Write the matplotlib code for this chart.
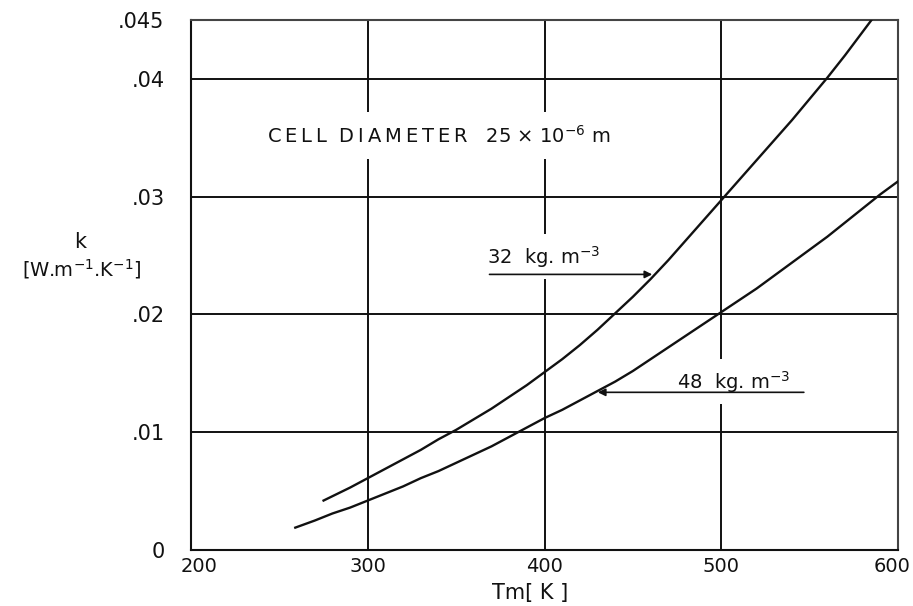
import matplotlib.pyplot as plt
import matplotlib.transforms as mtransforms
import numpy as np

# Thermal conductivity of foam vs mean temperature, cell diameter 25e-6 m
t_32 = [275, 290, 300, 310, 320, 330, 340, 350, 360, 370, 380, 390, 400, 410, 420,
        430, 440, 450, 460, 470, 480, 490, 500, 510, 520, 530, 540, 550, 560, 570,
        580, 585]
k_32 = [0.0042, 0.0053, 0.0061, 0.0069, 0.0077, 0.0085, 0.0094, 0.0102, 0.0111,
        0.0120, 0.0130, 0.0140, 0.0151, 0.0162, 0.0174, 0.0187, 0.0201, 0.0215,
        0.0230, 0.0246, 0.0263, 0.0280, 0.0297, 0.0314, 0.0331, 0.0348, 0.0365,
        0.0383, 0.0401, 0.0420, 0.0440, 0.0450]

t_48 = [259, 270, 280, 290, 300, 310, 320, 330, 340, 350, 360, 370, 380, 390, 400,
        410, 420, 430, 440, 450, 460, 470, 480, 490, 500, 510, 520, 530, 540, 550,
        560, 570, 580, 590, 600]
k_48 = [0.0019, 0.0025, 0.0031, 0.0036, 0.0042, 0.0048, 0.0054, 0.0061, 0.0067,
        0.0074, 0.0081, 0.0088, 0.0096, 0.0104, 0.0112, 0.0119, 0.0127, 0.0135,
        0.0143, 0.0152, 0.0162, 0.0172, 0.0182, 0.0192, 0.0202, 0.0212, 0.0222,
        0.0233, 0.0244, 0.0255, 0.0266, 0.0278, 0.0290, 0.0302, 0.0313]

x_ticks = [200, 300, 400, 500, 600]
y_ticks = [0, 0.01, 0.02, 0.03, 0.04, 0.045]
y_tick_labels = ['0', '.01', '.02', '.03', '.04', '.045']

ink = '#111111'

fig = plt.figure(figsize=(9.13, 6.06), dpi=100)
ax = fig.add_axes([0.2092, 0.0924, 0.7744, 0.8746])

ax.plot(t_32, k_32, color=ink, lw=1.7, zorder=3)
ax.plot(t_48, k_48, color=ink, lw=1.7, zorder=3)

ax.set_xlim(200, 600)
ax.set_ylim(0, 0.045)
ax.set_xticks(x_ticks)
ax.set_yticks(y_ticks)
ax.set_yticklabels(y_tick_labels)
ax.tick_params(length=0, colors=ink)
ax.tick_params(axis='y', pad=19, labelsize=15)
ax.tick_params(axis='x', pad=5, labelsize=14)
ax.grid(True, color=ink, lw=1.4, zorder=1)
ax.set_axisbelow(True)
for s in ax.spines.values():
    s.set_color(ink)
    s.set_linewidth(1.5)
ax.spines['top'].set_color('#444444')
ax.spines['right'].set_color('#444444')

# nudge the end labels of the x axis inward so they stay on the figure
xlabels = ax.get_xticklabels()
xlabels[0].set_transform(xlabels[0].get_transform() +
                         mtransforms.ScaledTranslation(8 / 100, 0, fig.dpi_scale_trans))
xlabels[-1].set_transform(xlabels[-1].get_transform() +
                          mtransforms.ScaledTranslation(-6 / 100, 0, fig.dpi_scale_trans))

# labels with white boxes that break the grid lines
box = dict(facecolor='white', edgecolor='none', pad=9)
ax.text(243, 0.0352, 'C\u2009E\u2009L\u2009L  D\u2009I\u2009A\u2009M\u2009E\u2009T\u2009E\u2009R   25 \u00d7 10$^{-6}$ m',
        fontsize=14, va='center', ha='left', color=ink, bbox=box, zorder=2)
ax.text(367.5, 0.0249, '32  kg. m$^{-3}$', fontsize=14, va='center', ha='left',
        color=ink, bbox=dict(facecolor='white', edgecolor='none', pad=7), zorder=2)
ax.text(475, 0.0143, '48  kg. m$^{-3}$', fontsize=14, va='center', ha='left',
        color=ink, bbox=dict(facecolor='white', edgecolor='none', pad=7), zorder=2)

# pointer arrows to the curves
tip_32 = 462.5
y_32 = np.interp(tip_32, t_32, k_32)
ax.annotate('', xy=(tip_32, y_32), xytext=(367.3, y_32),
            arrowprops=dict(arrowstyle='-|>', color=ink, lw=1.2, mutation_scale=11),
            zorder=4)
tip_48 = 428.6
y_48 = np.interp(tip_48, t_48, k_48)
ax.annotate('', xy=(tip_48, y_48), xytext=(548.3, y_48),
            arrowprops=dict(arrowstyle='-|>', color=ink, lw=1.2, mutation_scale=11),
            zorder=4)

fig.text(0.0876, 0.6007, 'k', fontsize=15, ha='center', va='center', color=ink)
fig.text(0.0898, 0.5561, '[W.m$^{-1}$.K$^{-1}$]', fontsize=14, ha='center', va='center', color=ink)
fig.text(0.5805, 0.0215, 'Tm[ K ]', fontsize=15, ha='center', va='center', color=ink)

fig.savefig('out.png', dpi=100)
